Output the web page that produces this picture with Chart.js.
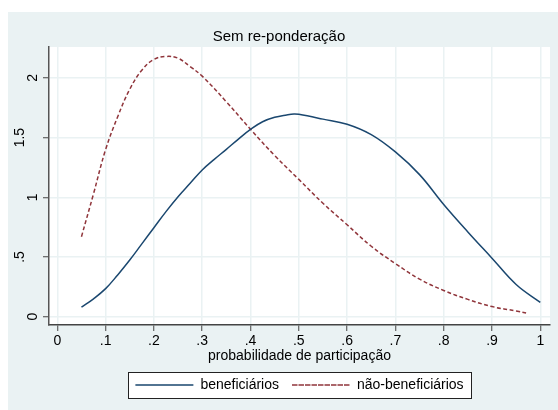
<!DOCTYPE html>
<html>
<head>
<meta charset="utf-8">
<title>Sem re-ponderação</title>
<script src="https://cdn.jsdelivr.net/npm/chart.js@4.4.1/dist/chart.umd.min.js"></script>
<style>
  html, body { margin: 0; padding: 0; background: #fff; }
  canvas { display: block; }
</style>
</head>
<body>
<canvas id="chart" width="558" height="410"></canvas>
<script>
// densidade estimada
const benefX = [0.05, 0.075, 0.1, 0.125, 0.15, 0.175, 0.2, 0.225, 0.25, 0.275, 0.3, 0.325, 0.35, 0.375, 0.4, 0.425, 0.45, 0.475, 0.49, 0.5, 0.55, 0.6, 0.65, 0.7, 0.75, 0.8, 0.85, 0.9, 0.95, 1.0];
const benefY = [0.08, 0.15, 0.235, 0.35, 0.475, 0.61, 0.745, 0.88, 1.005, 1.117, 1.229, 1.318, 1.402, 1.488, 1.569, 1.633, 1.67, 1.69, 1.698, 1.695, 1.655, 1.612, 1.525, 1.38, 1.19, 0.94, 0.71, 0.49, 0.27, 0.12];

const naoBenefX = [0.05, 0.075, 0.1, 0.125, 0.15, 0.175, 0.2, 0.225, 0.25, 0.275, 0.3, 0.35, 0.4, 0.45, 0.5, 0.55, 0.6, 0.65, 0.7, 0.75, 0.8, 0.85, 0.9, 0.95, 0.975];
const naoBenefY = [0.67, 1.03, 1.40, 1.675, 1.905, 2.065, 2.155, 2.18, 2.165, 2.095, 2.015, 1.80, 1.57, 1.35, 1.15, 0.95, 0.77, 0.59, 0.445, 0.315, 0.22, 0.145, 0.085, 0.048, 0.028];

const xTickValues = [0, 0.1, 0.2, 0.3, 0.4, 0.5, 0.6, 0.7, 0.8, 0.9, 1];
const xTickLabels = ['0', '.1', '.2', '.3', '.4', '.5', '.6', '.7', '.8', '.9', '1'];
const yTickValues = [0, 0.5, 1, 1.5, 2];
const yTickLabels = ['0', '.5', '1', '1.5', '2'];

const FONT = "'Liberation Sans', Arial, Helvetica, sans-serif";
const PANEL = '#EAF2F3';

const toPoints = (xs, ys) => xs.map((x, i) => ({ x: x, y: ys[i] }));

// fundo do gráfico (estilo s2color) + caixa da legenda
const backgroundPlugin = {
    id: 'stataBackground',
    beforeDraw(chart) {
        const ctx = chart.ctx;
        const area = chart.chartArea;
        ctx.save();
        ctx.fillStyle = '#ffffff';
        ctx.fillRect(0, 0, chart.width, chart.height);
        ctx.fillStyle = PANEL;
        ctx.fillRect(8, 12, chart.width - 8, chart.height - 12);
        ctx.fillStyle = '#ffffff';
        ctx.fillRect(area.left, area.top, area.right - area.left, area.bottom - area.top);

        const boxes = chart.legend.legendHitBoxes;
        if (boxes && boxes.length) {
            const left = Math.min(...boxes.map(b => b.left)) - 7;
            const right = Math.max(...boxes.map(b => b.left + b.width)) + 8;
            const top = Math.min(...boxes.map(b => b.top)) - 6;
            const bottom = Math.max(...boxes.map(b => b.top + b.height)) + 6;
            ctx.fillStyle = '#ffffff';
            ctx.fillRect(left, top, right - left, bottom - top);
            ctx.strokeStyle = '#222';
            ctx.lineWidth = 1;
            ctx.strokeRect(Math.round(left) + 0.5, Math.round(top) + 0.5, Math.round(right - left), Math.round(bottom - top));
        }
        ctx.restore();
    }
};

// rótulos do eixo y girados (como no Stata)
const yLabelsPlugin = {
    id: 'yLabels',
    afterDraw(chart) {
        const ctx = chart.ctx;
        const scale = chart.scales.y;
        ctx.save();
        ctx.font = '14px ' + FONT;
        ctx.fillStyle = '#000';
        ctx.textAlign = 'center';
        ctx.textBaseline = 'middle';
        scale.ticks.forEach((t, i) => {
            const label = yTickLabels[i];
            const py = scale.getPixelForValue(t.value);
            const cx = label.length > 1 ? 20 : 33;
            ctx.save();
            ctx.translate(cx, py);
            ctx.rotate(-Math.PI / 2);
            ctx.fillText(label, 0, 0);
            ctx.restore();
        });
        ctx.restore();
    }
};

new Chart(document.getElementById('chart'), {
    type: 'line',
    data: {
        datasets: [
            {
                label: 'beneficiários',
                data: toPoints(benefX, benefY),
                borderColor: '#1A476F',
                backgroundColor: '#1A476F',
                borderWidth: 1.5,
                pointRadius: 0,
                tension: 0.4,
                fill: false
            },
            {
                label: 'não-beneficiários',
                data: toPoints(naoBenefX, naoBenefY),
                borderColor: '#90353B',
                backgroundColor: '#90353B',
                borderWidth: 1.5,
                borderDash: [4, 2.5],
                pointRadius: 0,
                tension: 0.4,
                fill: false
            }
        ]
    },
    options: {
        responsive: false,
        animation: false,
        events: [],
        layout: {
            padding: { left: 8, right: 8, top: 12, bottom: 8 }
        },
        plugins: {
            tooltip: { enabled: false },
            title: {
                display: true,
                text: 'Sem re-ponderação',
                color: '#000',
                font: { family: FONT, size: 15, weight: 'normal' },
                padding: { top: 16, bottom: 1 }
            },
            legend: {
                position: 'bottom',
                fullSize: false,
                labels: {
                    color: '#000',
                    font: { family: FONT, size: 14 },
                    boxWidth: 58,
                    boxHeight: 0,
                    padding: 13
                }
            }
        },
        scales: {
            x: {
                type: 'linear',
                min: -0.0172,
                max: 1.0201,
                afterBuildTicks: (scale) => {
                    scale.ticks = xTickValues.map(v => ({ value: v }));
                },
                afterFit: (scale) => { scale.height = 40; },
                ticks: {
                    color: '#000',
                    font: { family: FONT, size: 14 },
                    padding: 2,
                    maxRotation: 0,
                    autoSkip: false,
                    callback: (value, index) => xTickLabels[index]
                },
                grid: {
                    color: PANEL,
                    lineWidth: 1.5,
                    drawTicks: true,
                    tickLength: 6,
                    tickColor: '#444',
                    tickWidth: 1
                },
                border: { color: '#444', width: 1.5 },
                title: {
                    display: true,
                    text: 'probabilidade de participação',
                    color: '#000',
                    font: { family: FONT, size: 14 },
                    padding: { top: -4, bottom: 0 }
                }
            },
            y: {
                type: 'linear',
                min: -0.0695,
                max: 2.259,
                afterBuildTicks: (scale) => {
                    scale.ticks = yTickValues.map(v => ({ value: v }));
                },
                afterFit: (scale) => { scale.width = 41; },
                ticks: { display: false },
                grid: {
                    color: PANEL,
                    lineWidth: 1.5,
                    drawTicks: true,
                    tickLength: 6,
                    tickColor: '#444',
                    tickWidth: 1
                },
                border: { color: '#555', width: 1.5 }
            }
        }
    },
    plugins: [backgroundPlugin, yLabelsPlugin]
});
</script>
</body>
</html>
